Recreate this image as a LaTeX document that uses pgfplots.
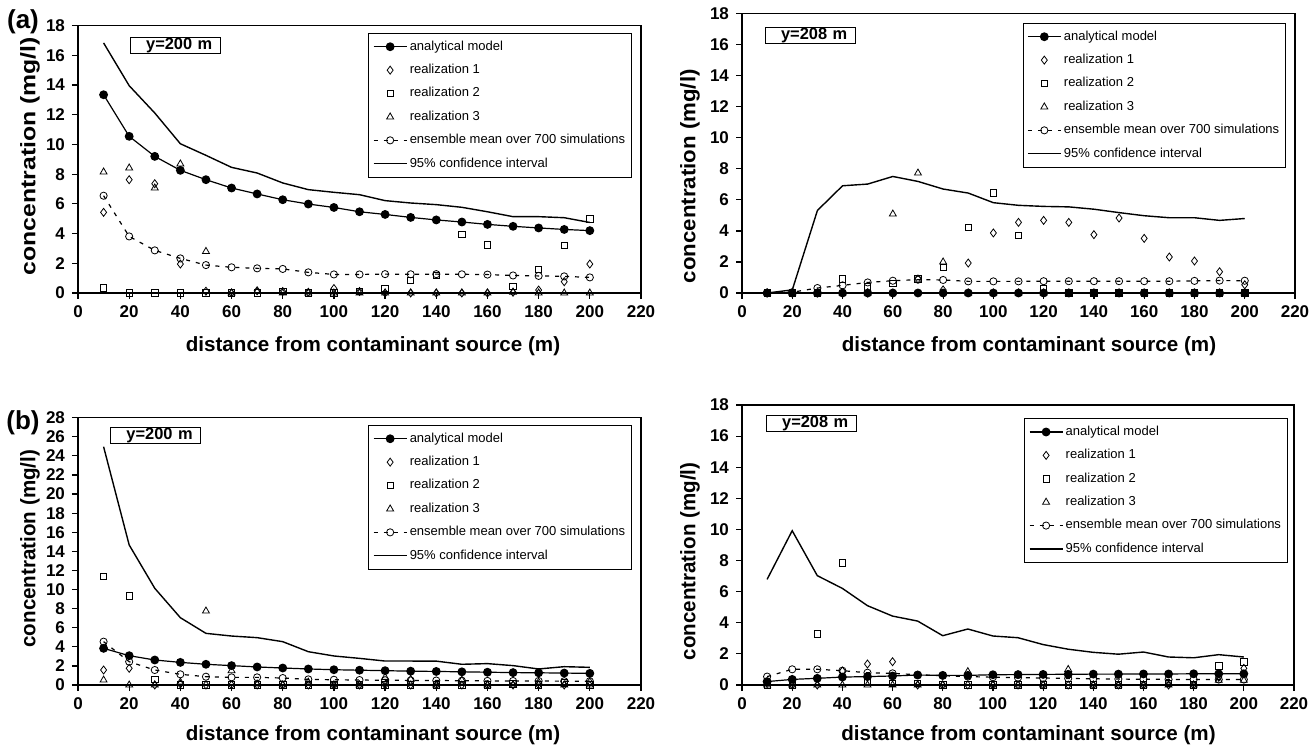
\documentclass[border=0pt]{standalone}
\usepackage{fontspec}
\setmainfont{Liberation Sans}
\usepackage{graphicx}
\usepackage{pgfplots}
\usepackage{pgfplotstable}
\pgfplotsset{compat=1.18}

\pgfplotstableread{
x an r1 r2 r3 mean ciu cil
10 13.35 5.43 0.34 8.15 6.55 16.84 0
20 10.55 7.63 0.0 8.42 3.81 13.96 0
30 9.2 7.36 0.0 7.07 2.87 12.12 0
40 8.26 1.95 0.0 8.69 2.33 10.05 0
50 7.63 0.12 0.0 2.8 1.88 9.27 0
60 7.07 0.0 0.0 0.0 1.73 8.46 0
70 6.67 0.15 0.0 0.1 1.66 8.08 0
80 6.28 0.1 0.1 0.0 1.62 7.41 0
90 5.99 0.05 0.0 0.0 1.39 6.96 0
100 5.76 0.3 0.0 0.0 1.25 6.78 0
110 5.47 0.1 0.1 0.0 1.25 6.62 0
120 5.29 0.0 0.3 0.0 1.27 6.22 0
130 5.09 0.0 0.85 0.0 1.26 6.06 0
140 4.92 0.0 1.2 0.0 1.27 5.95 0
150 4.78 0.0 3.93 0.0 1.26 5.77 0
160 4.62 0.0 3.25 0.0 1.24 5.47 0
170 4.49 0.05 0.45 0.05 1.18 5.14 0
180 4.38 0.2 1.57 0.0 1.15 5.14 0
190 4.28 0.76 3.2 0.0 1.12 5.07 0
200 4.2 1.95 5.0 0.0 1.05 4.75 0
}\tA

\pgfplotstableread{
x an r1 r2 r3 mean ciu cil
10 0 0 0 0 0.02 0.0 0
20 0 0 0 0 0.05 0.2 0
30 0 0 0 0 0.32 5.32 0
40 0 0 0.9 0 0.49 6.91 0
50 0 0 0.39 0 0.68 7.02 0
60 0 0 0.6 5.09 0.79 7.51 0
70 0 0.9 0.9 7.73 0.86 7.19 0
80 0 0.2 1.65 2.0 0.84 6.70 0
90 0 1.93 4.23 0 0.75 6.44 0
100 0 3.87 6.44 0 0.75 5.82 0
110 0 4.55 3.70 0 0.75 5.65 0
120 0 4.68 0.26 0 0.76 5.58 0
130 0 4.55 0 0 0.76 5.55 0
140 0 3.76 0 0 0.76 5.40 0
150 0 4.83 0 0 0.76 5.18 0
160 0 3.52 0 0 0.76 4.98 0
170 0 2.32 0 0 0.76 4.85 0
180 0 2.06 0 0 0.78 4.85 0
190 0 1.37 0 0 0.80 4.68 0
200 0 0.53 0 0 0.79 4.80 0
}\tB

\pgfplotstableread{
x an r1 r2 r3 mean ciu cil
10 3.84 1.57 11.35 0.52 4.54 24.96 0
20 3.07 1.75 9.32 0.0 2.44 14.67 0
30 2.62 0.0 0.59 0.0 1.57 10.13 0
40 2.37 0.1 0.0 0.3 1.12 7.05 0
50 2.17 0.0 0.0 7.75 0.87 5.41 0
60 2.03 0.0 0.0 1.5 0.80 5.13 0
70 1.89 0.0 0.0 0.1 0.80 4.96 0
80 1.78 0.0 0.0 0.0 0.73 4.54 0
90 1.68 0.0 0.0 0.3 0.59 3.49 0
100 1.60 0.0 0.0 0.0 0.55 3.04 0
110 1.55 0.0 0.0 0.0 0.52 2.79 0
120 1.50 0.0 0.0 0.8 0.50 2.51 0
130 1.45 0.0 0.0 0.6 0.48 2.51 0
140 1.42 0.0 0.0 0.0 0.47 2.50 0
150 1.38 0.0 0.0 0.5 0.45 2.17 0
160 1.34 0.0 0.0 0.0 0.43 2.24 0
170 1.30 0.0 0.1 0.0 0.42 2.03 0
180 1.28 0.0 0.0 0.3 0.42 1.68 0
190 1.25 0.0 0.2 0.0 0.40 1.92 0
200 1.22 0.3 0.0 0.0 0.40 1.85 0
}\tC

\pgfplotstableread{
x an r1 r2 r3 mean ciu cil
10 0.22 0.1 0.0 0.0 0.54 6.79 0
20 0.36 0.0 0.0 0.0 1.01 9.92 0
30 0.43 0.0 3.28 0.0 1.01 7.03 0
40 0.51 0.9 7.86 0.0 0.92 6.21 0
50 0.54 1.35 0.2 0.0 0.79 5.10 0
60 0.58 1.50 0.1 0.0 0.75 4.43 0
70 0.64 0.0 0.1 0.0 0.66 4.11 0
80 0.62 0.0 0.0 0.0 0.60 3.17 0
90 0.62 0.0 0.0 0.86 0.54 3.60 0
100 0.66 0.0 0.0 0.0 0.50 3.15 0
110 0.67 0.0 0.0 0.0 0.47 3.04 0
120 0.68 0.0 0.0 0.0 0.45 2.60 0
130 0.69 0.0 0.0 1.0 0.42 2.30 0
140 0.70 0.0 0.0 0.0 0.40 2.10 0
150 0.70 0.0 0.0 0.0 0.38 1.98 0
160 0.71 0.0 0.0 0.0 0.37 2.12 0
170 0.71 0.0 0.1 0.0 0.36 1.80 0
180 0.72 0.0 0.0 0.0 0.35 1.75 0
190 0.72 0.5 1.22 0.3 0.35 1.95 0
200 0.72 1.07 1.48 0.3 0.35 1.80 0
}\tD

\pgfplotsset{
  panel/.style={
    scale only axis, clip=false,
    xmin=0, xmax=220, xtick={0,20,...,220}, ymin=0,
    tick align=outside, tick pos=left,
    major tick length=3pt,
    axis line style={line width=0.6pt},
    every tick/.style={black, line width=0.6pt},
    ticklabel style={font=\fontsize{8.5}{10}\selectfont\bfseries},
    /pgf/number format/assume math mode=true,
    xlabel={\fontsize{10.3}{12}\selectfont\bfseries distance from contaminant source (m)},
    legend cell align=left,
    legend image code/.code={\draw[mark repeat=2,mark phase=2,##1] plot coordinates {(0pt,0pt) (8.25pt,0pt) (16.5pt,0pt)};},
    legend style={draw=black, line width=0.5pt, anchor=north east,
      font=\fontsize{6.5}{7}\selectfont, row sep=3.3pt, inner xsep=2pt, inner ysep=2.6pt,
      nodes={inner sep=1.2pt, text height=4.7pt, text depth=1.3pt}},
  },
  an/.style={black, line width=0.6pt, mark=*, mark size=1.9pt},
  ra/.style={black, only marks, mark=diamond, mark size=2pt, line width=0.4pt},
  rb/.style={black, only marks, mark=square, mark size=1.6pt, line width=0.4pt},
  rc/.style={black, only marks, mark=triangle, mark size=2pt, line width=0.4pt},
  mn/.style={black, line width=0.6pt, dash pattern=on 2pt off 3pt, mark=o, mark size=1.8pt, mark options={solid, fill=white, line width=0.4pt}},
  ci/.style={black, line width=0.7pt},
}

\newcommand{\plotall}[1]{%
  \addplot[ci, forget plot] table[x=x,y=cil] {#1};
  \addplot[an] table[x=x,y=an] {#1};
  \addplot[ra] table[x=x,y=r1] {#1};
  \addplot[rb] table[x=x,y=r2] {#1};
  \addplot[rc] table[x=x,y=r3] {#1};
  \addplot[mn] table[x=x,y=mean] {#1};
  \addplot[ci] table[x=x,y=ciu] {#1};
  \legend{analytical model, realization 1, realization 2, realization 3, ensemble mean over 700 simulations, 95\% confidence interval}
}

\newcommand{\ybox}[3]{\node[draw, line width=0.5pt, anchor=north west, minimum height=8pt, inner ysep=0pt, inner xsep=4pt, text width=37pt, align=right, font=\fontsize{8.2}{9}\selectfont\bfseries] at (rel axis cs:#1,#2) {#3};}

\begin{document}
\begin{tikzpicture}
\useasboundingbox (0,0) rectangle (654.5pt,-373.5pt);

% (a) left
\begin{axis}[panel, at={(39pt,-146.5pt)}, anchor=south west, width=281.5pt, height=133.65pt,
  ymax=18, ytick={0,2,...,18},
  ylabel={\scalebox{1.18}[1]{\fontsize{10.5}{12}\selectfont\bfseries concentration (mg/l)}},
  ylabel style={at={(axis description cs:-0.0853,0.512)}, anchor=center},
  xlabel style={at={(axis description cs:0.524,-0.198)}, anchor=center},
  legend style={at={(0.984,0.974)}}]
  \plotall{\tA}
  \ybox{0.092}{0.959}{y=200 m}
\end{axis}

% (a) right
\begin{axis}[panel, at={(371pt,-146.5pt)}, anchor=south west, width=276.5pt, height=139.65pt,
  ymax=18, ytick={0,2,...,18},
  ylabel={\scalebox{1.06}[1]{\fontsize{10.5}{12}\selectfont\bfseries concentration (mg/l)}},
  ylabel style={at={(axis description cs:-0.094,0.418)}, anchor=center},
  xlabel style={at={(axis description cs:0.519,-0.19)}, anchor=center},
  legend style={at={(0.984,0.968)}}]
  \plotall{\tB}
  \ybox{0.041}{0.953}{y=208 m}
\end{axis}

% (b) left
\begin{axis}[panel, at={(39pt,-342.5pt)}, anchor=south west, width=281.5pt, height=133.65pt,
  ymax=28, ytick={0,2,...,28},
  ylabel={\scalebox{0.98}[1]{\fontsize{10.5}{12}\selectfont\bfseries concentration (mg/l)}},
  ylabel style={at={(axis description cs:-0.0853,0.51)}, anchor=center},
  xlabel style={at={(axis description cs:0.524,-0.188)}, anchor=center},
  legend style={at={(0.984,0.974)}}]
  \plotall{\tC}
  \ybox{0.057}{0.966}{y=200 m}
\end{axis}

% (b) right
\begin{axis}[panel, at={(371pt,-342.5pt)}, anchor=south west, width=276pt, height=140pt,
  ymax=18, ytick={0,2,...,18},
  ylabel={\scalebox{0.98}[1]{\fontsize{10.5}{12}\selectfont\bfseries concentration (mg/l)}},
  ylabel style={at={(axis description cs:-0.0942,0.441)}, anchor=center},
  xlabel style={at={(axis description cs:0.519,-0.18)}, anchor=center},
  legend style={at={(0.989,0.954)}}]
  \plotall{\tD}
  \ybox{0.043}{0.964}{y=208 m}
\end{axis}

\node[font=\fontsize{13}{15}\selectfont\bfseries] at (11.5pt,-11pt) {(a)};
\node[font=\fontsize{13}{15}\selectfont\bfseries] at (11.5pt,-211.5pt) {(b)};
\end{tikzpicture}
\end{document}
